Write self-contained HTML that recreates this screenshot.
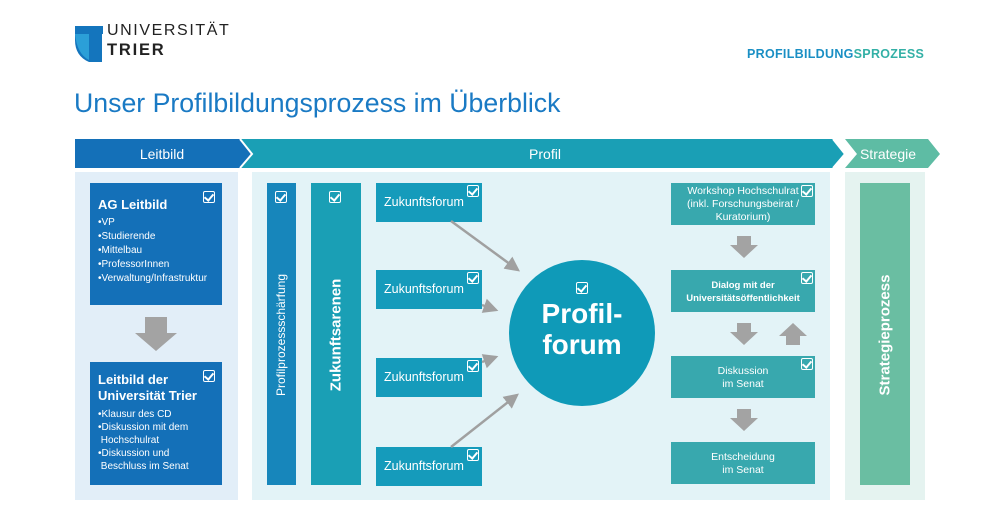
<!DOCTYPE html>
<html><head><meta charset="utf-8"><style>
*{margin:0;padding:0;box-sizing:border-box}
body{width:1000px;height:516px;background:#fff;position:relative;overflow:hidden;font-family:"Liberation Sans","DejaVu Sans",sans-serif}
.a{position:absolute}
.w{color:#fff}
.cb{position:absolute;width:12px;height:12px;border:1.5px solid #fff;border-radius:2px}
.cb:after{content:"";position:absolute;left:2px;top:0px;width:4px;height:7px;border-right:2px solid #fff;border-bottom:2px solid #fff;transform:rotate(40deg)}
.zf{position:absolute;left:376px;width:106px;height:39px;background:#159bbb;color:#fff;font-size:12.5px;padding:12px 0 0 8px}
.rb{position:absolute;left:671px;width:144px;height:42px;background:#38a8ae;color:#fff;font-size:10.5px;text-align:center;line-height:13px}
ul{list-style:none;font-size:10px;line-height:14px}
</style></head><body>
<!-- logo -->
<svg class="a" style="left:75px;top:26px" width="28" height="36"><path d="M0 0H28V8H14V36Q0 30 0 14Z" fill="#1475bd"/><path d="M14 8H27V36H14Z" fill="#1475bd"/><path d="M0 8 Q2 28 14 34 V8Z" fill="#2b9fd8"/></svg>
<div class="a" style="left:107px;top:22px;font-size:16px;letter-spacing:1.6px;color:#222">UNIVERSITÄT</div>
<div class="a" style="left:107px;top:41px;font-size:16.5px;letter-spacing:1.8px;font-weight:bold;color:#222">TRIER</div>
<div class="a" style="left:747px;top:47px;font-size:12.5px;font-weight:bold;color:#1a8fc4;letter-spacing:0.3px">PROFILBILDUNG<span style="color:#33b0a6">SPROZESS</span></div>
<div class="a" style="left:74px;top:88px;font-size:26.7px;color:#1a7ac4">Unser Profilbildungsprozess im Überblick</div>
<!-- header bar -->
<svg class="a" style="left:0;top:139px" width="1000" height="30">
<polygon points="845,0 928,0 940,15 928,29 845,29 857,15" fill="#5ebca4"/>
<polygon points="240,0 833,0 845,15 833,29 240,29 252,15" fill="#1a9fb5"/>
<polygon points="75,0 240,0 252,15 240,29 75,29" fill="#1470b8"/>
<polyline points="240,0 252,15 240,29" fill="none" stroke="#fff" stroke-width="2"/>
<polyline points="833,0 845,15 833,29" fill="none" stroke="#fff" stroke-width="2"/>
<text x="162" y="20" fill="#fff" font-size="14" text-anchor="middle" font-family="Liberation Sans">Leitbild</text>
<text x="545" y="20" fill="#fff" font-size="14" text-anchor="middle" font-family="Liberation Sans">Profil</text>
<text x="888" y="20" fill="#fff" font-size="14" text-anchor="middle" font-family="Liberation Sans">Strategie</text>
</svg>
<!-- panels -->
<div class="a" style="left:75px;top:172px;width:163px;height:328px;background:#e2eef8"></div>
<div class="a" style="left:252px;top:172px;width:578px;height:328px;background:#e3f3f7"></div>
<div class="a" style="left:845px;top:172px;width:80px;height:328px;background:#e5f3f0"></div>
<!-- Leitbild boxes -->
<div class="a w" style="left:90px;top:183px;width:132px;height:122px;background:#1470b8;padding:14px 0 0 8px">
<div style="font-size:13px;font-weight:bold;margin-bottom:4px">AG Leitbild</div>
<ul><li>•VP</li><li>•Studierende</li><li>•Mittelbau</li><li>•ProfessorInnen</li><li>•Verwaltung/Infrastruktur</li></ul>
<div class="cb" style="left:113px;top:8px"></div></div>
<svg class="a" style="left:135px;top:317px" width="42" height="34"><polygon points="10,0 32,0 32,16 42,16 21,34 0,16 10,16" fill="#a3a3a3"/></svg>
<div class="a w" style="left:90px;top:362px;width:132px;height:123px;background:#1470b8;padding:10px 0 0 8px">
<div style="font-size:13px;font-weight:bold;line-height:16px;margin-bottom:4px">Leitbild der<br>Universität Trier</div>
<ul style="line-height:13px"><li>•Klausur des CD</li><li>•Diskussion mit dem<br>&nbsp;Hochschulrat</li><li>•Diskussion und<br>&nbsp;Beschluss im Senat</li></ul>
<div class="cb" style="left:113px;top:8px"></div></div>
<!-- vertical bars -->
<div class="a" style="left:267px;top:183px;width:29px;height:302px;background:#1786bb"><div class="cb" style="left:8px;top:8px"></div></div>
<div class="a w" style="left:281px;top:335px;transform:translate(-50%,-50%) rotate(-90deg);font-size:12px;white-space:nowrap">Profilprozessschärfung</div>
<div class="a" style="left:311px;top:183px;width:50px;height:302px;background:#1a9fb5"><div class="cb" style="left:18px;top:8px"></div></div>
<div class="a w" style="left:336px;top:335px;transform:translate(-50%,-50%) rotate(-90deg);font-size:15px;font-weight:bold;white-space:nowrap">Zukunftsarenen</div>
<div class="a" style="left:860px;top:183px;width:50px;height:302px;background:#6abea2"></div>
<div class="a w" style="left:885px;top:335px;transform:translate(-50%,-50%) rotate(-90deg);font-size:15px;font-weight:bold;white-space:nowrap">Strategieprozess</div>
<!-- zukunftsforen -->
<div class="zf" style="top:183px">Zukunftsforum<div class="cb" style="left:91px;top:2px"></div></div>
<div class="zf" style="top:270px">Zukunftsforum<div class="cb" style="left:91px;top:2px"></div></div>
<div class="zf" style="top:358px">Zukunftsforum<div class="cb" style="left:91px;top:2px"></div></div>
<div class="zf" style="top:447px">Zukunftsforum<div class="cb" style="left:91px;top:2px"></div></div>
<svg class="a" style="left:0;top:0" width="1000" height="516">
<defs><marker id="m" markerWidth="6" markerHeight="6" refX="5" refY="3" orient="auto"><path d="M0,0L6,3L0,6Z" fill="#a0a0a0"/></marker></defs>
<g stroke="#a0a0a0" stroke-width="2.5" marker-end="url(#m)">
<line x1="451" y1="221" x2="518" y2="270"/>
<line x1="482" y1="305" x2="496" y2="310"/>
<line x1="482" y1="362" x2="496" y2="357"/>
<line x1="451" y1="447" x2="517" y2="395"/>
</g>
<circle cx="582" cy="333" r="73" fill="#0f9ab8"/>
</svg>
<div class="cb" style="left:576px;top:282px"></div>
<div class="a w" style="left:509px;top:298px;width:146px;text-align:center;font-size:28px;font-weight:bold;line-height:31px">Profil-<br>forum</div>
<!-- right boxes -->
<div class="rb" style="top:183px;padding-top:2px">Workshop Hochschulrat<br>(inkl. Forschungsbeirat /<br>Kuratorium)<div class="cb" style="left:130px;top:2px"></div></div>
<svg class="a" style="left:730px;top:236px" width="28" height="22"><polygon points="7,0 21,0 21,9 28,9 14,22 0,9 7,9" fill="#a3a3a3"/></svg>
<div class="rb" style="top:270px;padding-top:9px;font-weight:bold;font-size:9.5px">Dialog mit der<br>Universitätsöffentlichkeit<div class="cb" style="left:130px;top:2px"></div></div>
<svg class="a" style="left:730px;top:323px" width="28" height="22"><polygon points="7,0 21,0 21,9 28,9 14,22 0,9 7,9" fill="#a3a3a3"/></svg>
<svg class="a" style="left:779px;top:323px" width="28" height="22"><polygon points="7,22 21,22 21,13 28,13 14,0 0,13 7,13" fill="#a3a3a3"/></svg>
<div class="rb" style="top:356px;padding-top:9px">Diskussion<br>im Senat<div class="cb" style="left:130px;top:2px"></div></div>
<svg class="a" style="left:730px;top:409px" width="28" height="22"><polygon points="7,0 21,0 21,9 28,9 14,22 0,9 7,9" fill="#a3a3a3"/></svg>
<div class="rb" style="top:442px;padding-top:9px">Entscheidung<br>im Senat</div>
</body></html>
